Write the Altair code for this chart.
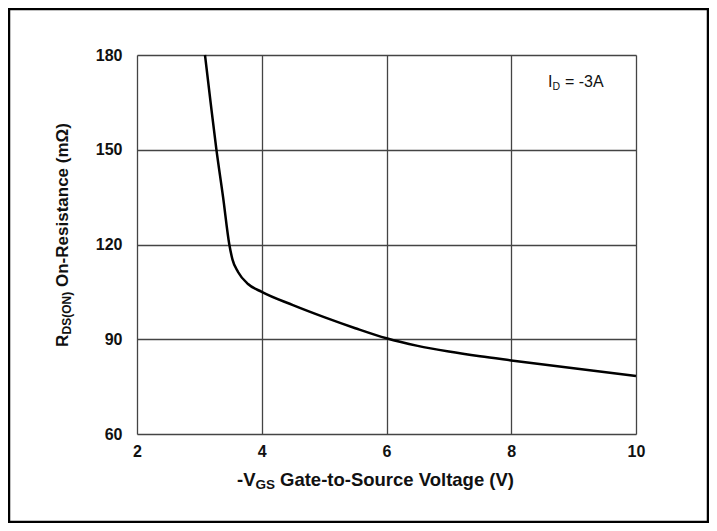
import altair as alt
import pandas as pd

# Curve data
vgs = [3.09, 3.18, 3.27, 3.38, 3.48, 3.53, 3.62, 3.78, 4.0, 4.5, 5.0, 5.5, 6.0, 6.5, 7.0, 7.5, 8.0, 9.0, 10.0]
rds = [180, 165, 150.5, 135, 120, 115.3, 111.3, 107.5, 105, 100.8, 97.0, 93.5, 90.3, 87.9, 86.1, 84.6, 83.3, 80.8, 78.4]

x_ticks = [2, 4, 6, 8, 10]
y_ticks = [60, 90, 120, 150, 180]

FONT = "Liberation Sans"
W, H = 499, 379

df = pd.DataFrame({"vgs": vgs, "rds": rds})

curve = alt.Chart(df).mark_line(color="black", strokeWidth=2.5, interpolate="monotone").encode(
    x=alt.X("vgs:Q", scale=alt.Scale(domain=[2, 10], nice=False),
            axis=alt.Axis(values=x_ticks, title=None, grid=True, ticks=False, domain=False,
                          labelFont=FONT, labelFontSize=16, labelFontWeight="bold",
                          labelColor="#111", labelPadding=9, gridColor="#444", gridWidth=1.3,
                          labelFlush=False)),
    y=alt.Y("rds:Q", scale=alt.Scale(domain=[60, 180], nice=False),
            axis=alt.Axis(values=y_ticks, title=None, grid=True, ticks=False, domain=False,
                          labelFont=FONT, labelFontSize=16, labelFontWeight="bold",
                          labelColor="#111", labelPadding=15, gridColor="#444", gridWidth=1.3,
                          labelFlush=False)),
)


def txt(s, x, y, size, weight="bold", angle=0, baseline="alphabetic"):
    return alt.Chart(pd.DataFrame({"label": [s]})).mark_text(
        font=FONT, fontSize=size, fontWeight=weight, align="left", baseline=baseline,
        angle=angle, color="#111"
    ).encode(text="label:N", x=alt.value(x), y=alt.value(y))


# x-axis title: -V_GS Gate-to-Source Voltage (V)
xt_y = 431
xt = [
    txt("-V", 100, xt_y, 18.5),
    txt("GS", 118.5, xt_y + 3, 13.5),
    txt("Gate-to-Source Voltage (V)", 143, xt_y, 18.5),
]

# y-axis title: R_DS(ON) On-Resistance (mΩ), rotated
yt_x = -69
yt = [
    txt("R", yt_x, 292, 17, angle=270),
    txt("DS(ON)", yt_x + 3, 279.5, 12, angle=270),
    txt("On-Resistance (mΩ)", yt_x, 232, 17, angle=270),
]

# annotation: I_D = -3A
ann = [
    txt("I", 411, 32, 16, weight="normal"),
    txt("D", 415.5, 35, 10.5, weight="normal"),
    txt("= -3A", 428, 32, 16, weight="normal"),
]

frame = alt.Chart(pd.DataFrame({"k": [0]})).mark_rect(
    fill=None, stroke="black", strokeWidth=2.5, clip=False
).encode(x=alt.value(-128), x2=alt.value(571), y=alt.value(-46), y2=alt.value(467))

chart = alt.layer(curve, *xt, *yt, *ann, frame).properties(
    width=W, height=H,
    autosize=alt.AutoSizeParams(type="none"),
    padding={"left": 129, "top": 47, "right": 73, "bottom": 89},
).configure_view(stroke="black", strokeWidth=2.5).configure(background="white")

chart.save("out.html", embed_options={"renderer": "svg", "actions": False})
